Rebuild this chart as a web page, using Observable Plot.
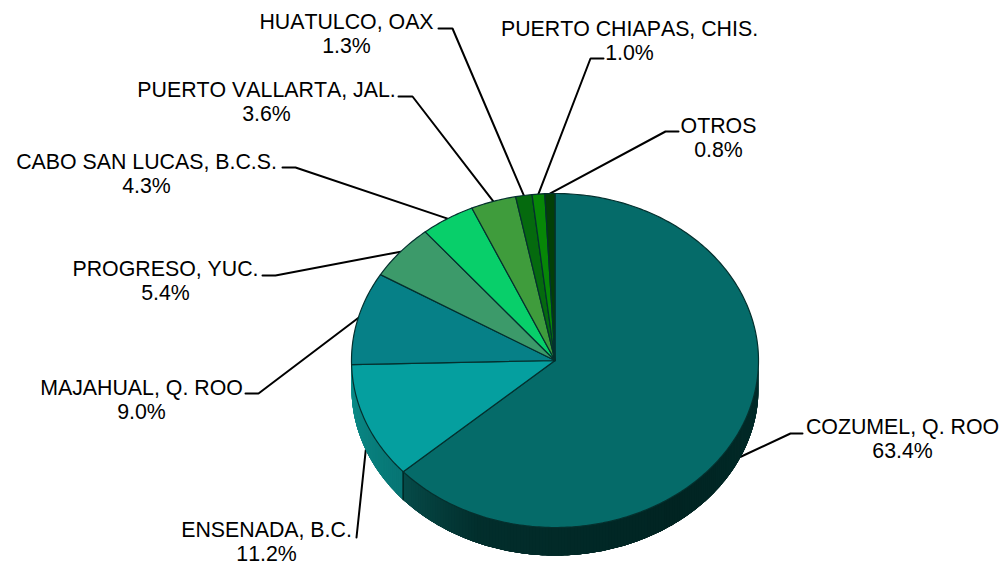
<!DOCTYPE html>
<html><head><meta charset="utf-8">
<style>html,body{margin:0;padding:0;background:#fff}svg{display:block}svg text{font-kerning:none}</style>
<script src="https://cdn.jsdelivr.net/npm/d3@7"></script>
<script src="https://cdn.jsdelivr.net/npm/@observablehq/plot@0.6"></script>
</head><body><div id="chart"></div>
<script>
// Data, in clockwise order from 12 o'clock
const puertos = ["COZUMEL, Q. ROO","ENSENADA, B.C.","MAJAHUAL, Q. ROO","PROGRESO, YUC.","CABO SAN LUCAS, B.C.S.","PUERTO VALLARTA, JAL.","HUATULCO, OAX","PUERTO CHIAPAS, CHIS.","OTROS"];
const porcentajes = [63.4,11.2,9.0,5.4,4.3,3.6,1.3,1.0,0.8];
const colores = ["#056b69","#059f9f","#068087","#3c9a6a","#08cf6a","#3f9c3c","#056a0e","#078707","#033f07"];

// Layout, in pixels, kept apart from the data
const W=1006,H=566,CX=554.5,CY=360,RX=203.5,RY=167,DEPTH=28;
// elbow of the leader, end of its short stub, centre of the label block
const rotulos = [
 [790,433,802,902,438],[356,537,356,266,541],[258,393,245,141,399],
 [275,275,262,165,280],[295,167,282,146,173],[412,96,398,266,101],
 [452,28,438,346,33],[590,58,603,629,40],[665,131,678,718,137]];

const ux=p=>(p-CX)/RX, uy=p=>(p-CY)/RY, rad=p=>p/100*2*Math.PI;
const rim=p=>[Math.sin(rad(p)),-Math.cos(rad(p))];
let acc=0;
const slices=porcentajes.map((v,i)=>{const a=acc;acc+=v;return {i,a,b:acc,mid:a+v/2}});

// top face polygons
const cara=slices.flatMap(s=>{
  const n=Math.max(2,Math.ceil(s.b-s.a)*4);
  const pts=[{id:s.i,x:0,y:0,c:colores[s.i]}];
  for(let k=0;k<=n;k++){const [x,y]=rim(s.a+(s.b-s.a)*k/n);pts.push({id:s.i,x,y,c:colores[s.i]})}
  pts.push({id:s.i,x:0,y:0,c:colores[s.i]});
  return pts;
});

// side wall: strips painted in order, each overlapped by the next
const sombraA=d3.scaleLinear().domain([25,40,56,63.4]).range(["#022c2a","#012422","#022e2c","#064c4a"]);
const sombraB=d3.scaleLinear().domain([63.4,75]).range(["#077574","#0b8e8a"]);
const hex=c=>d3.color(c).formatHex();
const grosor=DEPTH/RY, lateral=[], paso=0.25;
for(let p=25;p<75;p+=paso){
  const c=hex(p<63.4?sombraA(p):sombraB(p)), id="s"+p;
  const ts=d3.range(p,Math.min(p+1.5,75)+0.01,0.25).map(t=>rim(t));
  ts.forEach(([x,y])=>lateral.push({id,x,y,c}));
  ts.slice().reverse().forEach(([x,y])=>lateral.push({id,x,y:y+grosor,c}));
}
const [dx0,dy0]=rim(63.4);
const divisor=[{x:dx0,y:dy0},{x:dx0,y:dy0+grosor}];

// leaders and labels
const leaders=slices.flatMap(s=>{
  const [x,y]=rim(s.mid),[ex,ey,sx]=rotulos[s.i];
  const front=s.mid>25&&s.mid<75;
  return [{id:s.i,x,y:y+(front?grosor:0)},{id:s.i,x:ux(ex),y:uy(ey)},{id:s.i,x:ux(sx),y:uy(ey)}];
});
const labels=slices.map(s=>({x:ux(rotulos[s.i][3]),y:uy(rotulos[s.i][4]),t:puertos[s.i]+"\n"+porcentajes[s.i].toFixed(1)+"%"}));

const plot=Plot.plot({
  width:W,height:H,margin:0,
  x:{domain:[ux(0),ux(W)],range:[0,W],axis:null},
  y:{domain:[uy(0),uy(H)],range:[0,H],axis:null},
  color:{type:"identity"},
  style:{background:"#fff"},
  marks:[
    Plot.line(leaders,{x:"x",y:"y",z:"id",stroke:"#000",strokeWidth:2,curve:"linear",strokeLinejoin:"miter"}),
    Plot.line(lateral,{x:"x",y:"y",z:"id",fill:"c",stroke:"none",curve:"linear"}),
    Plot.line(divisor,{x:"x",y:"y",stroke:"#012220",strokeWidth:1.2,curve:"linear"}),
    Plot.line(cara,{x:"x",y:"y",z:"id",fill:"c",stroke:"#04302e",strokeWidth:1.2,curve:"linear",strokeLinejoin:"round"}),
    Plot.text(labels,{x:"x",y:"y",text:"t",fontFamily:"'Liberation Sans',Arial,sans-serif",fontSize:21.33,lineHeight:1.125,fill:"#000",textAnchor:"middle"})
  ]
});
document.getElementById("chart").append(plot);
</script></body></html>
